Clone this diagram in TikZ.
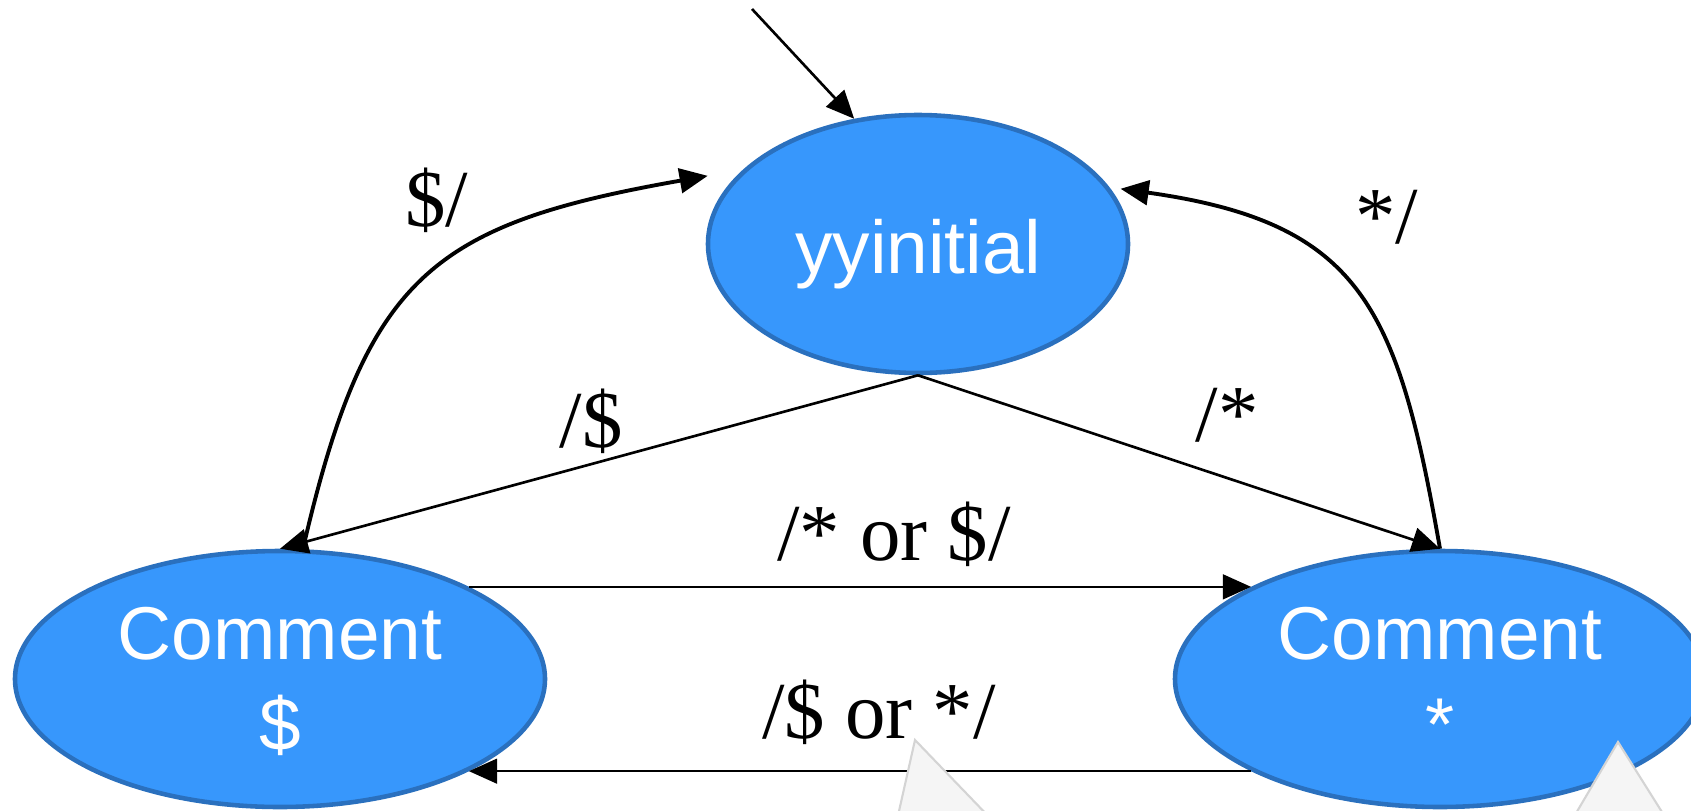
\documentclass[tikz,border=0pt]{standalone}
\usepackage{fontspec}
\setmainfont{Liberation Serif}
\newfontfamily\arialfont{Liberation Sans}
\usepackage{tikz}
\usetikzlibrary{arrows.meta, shapes.geometric}
\definecolor{stfill}{RGB}{55,151,252}
\definecolor{stline}{RGB}{42,112,190}
\definecolor{tipgray}{RGB}{245,245,245}
\definecolor{tipline}{RGB}{212,212,212}

\begin{document}
\begin{tikzpicture}[>={Triangle[length=8pt,width=7pt]},
    state/.style={ellipse, draw=stline, fill=stfill, line width=1.3pt, inner sep=0pt,
        text=white, align=center, font=\arialfont\fontsize{21.3}{26}\selectfont},
    lbl/.style={font=\fontsize{23}{27}\selectfont, inner sep=0pt},
    ed/.style={->, line width=0.75pt},
    cv/.style={->, line width=1.1pt, looseness=1.3}]
    \useasboundingbox (0,0) rectangle (16.91,8.10);

    % Các trạng thái
    \node[state, minimum width=4.20cm, minimum height=2.58cm, text height=21.5pt, text depth=4.5pt] (init) at (9.18,5.66) {yyinitial};
    \node[state, minimum width=5.30cm, minimum height=2.56cm, text depth=-2pt] (cd) at (2.80,1.31) {Comment\\\$};
    \node[state, minimum width=5.30cm, minimum height=2.56cm, text depth=-2pt] (cs) at (14.40,1.31) {Comment\\*};

    % Mũi tên vào trạng thái đầu
    \coordinate (start) at (7.52,8.01);
    \draw[ed] (start) -- (init.117);

    % Các cung thẳng
    \draw[ed] (init.south) -- (cd.north);
    \draw[ed] (init.south) -- (cs.north);
    \draw[ed] (cd.26) -- (cs.154);
    \draw[ed] (cs.206) -- (cd.334);

    % Các cung cong
    \draw[cv] (cd.80) to[out=77, in=190] ([xshift=-0.2cm, yshift=0.1cm]init.163);
    \draw[cv] (cs.90) to[out=100, in=-8] ([xshift=0.1cm]init.16);

    % Nhãn
    \node[lbl] (lbDS) at (4.37,6.10) {\$/};
    \node[lbl] (lbSD) at (5.91,3.89) {/\$};
    \node[lbl] (lbSS) at (12.27,3.95) {/*};
    \node[lbl] (lbSC) at (13.87,5.93) {*/};
    \node[lbl] (lbTop) at (8.94,2.76) {/* or \$/};
    \node[lbl] (lbBot) at (8.79,0.98) {/\$ or */};

    % Hai tam giác xám
    \filldraw[fill=tipgray, draw=tipline, line width=0.6pt] (9.15,0.70) -- (8.97,-0.1) -- (9.92,-0.1) -- cycle;
    \filldraw[fill=tipgray, draw=tipline, line width=0.6pt] (16.18,0.68) -- (15.72,-0.1) -- (16.67,-0.1) -- cycle;
\end{tikzpicture}
\end{document}
